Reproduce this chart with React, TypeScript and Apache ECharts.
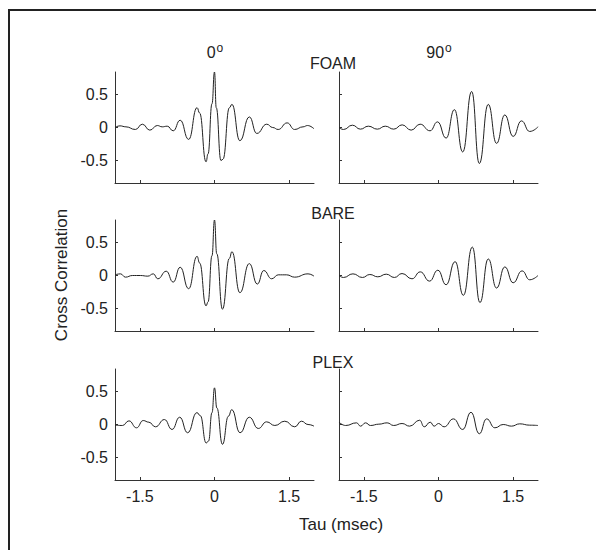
import React, { useEffect, useRef } from 'react';
import * as echarts from 'echarts';

// ---- Data ----
const xTicks = [-1.5, 0, 1.5];
const yTicks = [-0.5, 0, 0.5];
const materials = ['FOAM', 'BARE', 'PLEX'];
const angles = ['0', '90'];

const foam0Tau = [-2.0, -1.9, -1.78, -1.59, -1.45, -1.3, -1.15, -1.05, -0.95, -0.83, -0.69, -0.52, -0.35, -0.3, -0.17, -0.13, -0.05, 0, 0.035, 0.13, 0.17, 0.3, 0.35, 0.51, 0.7, 0.85, 1.05, 1.17, 1.28, 1.46, 1.61, 1.78, 1.87, 2.0];
const foam0Val = [0.0, 0.025, 0.01, -0.03, 0.05, -0.04, 0.03, 0.01, 0.02, -0.05, 0.11, -0.18, 0.30, 0.22, -0.52, -0.40, 0.36, 0.84, 0.30, -0.50, -0.48, 0.30, 0.35, -0.20, 0.16, -0.09, 0.05, 0.0, -0.03, 0.07, -0.03, 0.01, 0.03, -0.02];

const foam90Tau = [-2.0, -1.91, -1.73, -1.57, -1.41, -1.23, -1.07, -0.9, -0.73, -0.55, -0.37, -0.17, -0.02, 0.153, 0.32, 0.487, 0.667, 0.82, 1.0, 1.167, 1.333, 1.5, 1.667, 1.833, 2.0];
const foam90Val = [0.0, -0.03, 0.035, -0.025, 0.02, -0.025, 0.02, -0.025, 0.04, -0.04, 0.05, -0.05, 0.085, -0.16, 0.27, -0.37, 0.545, -0.545, 0.35, -0.24, 0.19, -0.135, 0.10, -0.06, 0.01];

const bare0Tau = [-2.0, -1.89, -1.79, -1.65, -1.49, -1.34, -1.23, -1.14, -0.97, -0.83, -0.69, -0.52, -0.35, -0.3, -0.17, -0.13, -0.05, 0, 0.045, 0.16, 0.3, 0.35, 0.51, 0.7, 0.86, 0.99, 1.15, 1.28, 1.45, 1.61, 1.88, 2.0];
const bare0Val = [0.01, 0.025, -0.025, 0.0, 0.0, -0.01, 0.025, -0.05, 0.065, -0.10, 0.125, -0.20, 0.29, 0.19, -0.46, -0.40, 0.30, 0.84, 0.33, -0.51, 0.26, 0.36, -0.26, 0.18, -0.13, 0.075, -0.05, 0.01, 0.01, -0.025, 0.025, -0.01];

const bare90Tau = [-2.0, -1.91, -1.72, -1.53, -1.38, -1.22, -1.05, -0.887, -0.733, -0.533, -0.367, -0.18, -0.013, 0.153, 0.333, 0.5, 0.68, 0.833, 1.0, 1.167, 1.333, 1.5, 1.68, 1.833, 2.0];
const bare90Val = [0.0, -0.03, 0.025, -0.03, 0.015, -0.02, 0.02, -0.03, 0.03, -0.05, 0.055, -0.085, 0.08, -0.14, 0.21, -0.30, 0.43, -0.41, 0.25, -0.19, 0.13, -0.11, 0.07, -0.065, 0.0];

const plex0Tau = [-2.0, -1.85, -1.72, -1.567, -1.433, -1.32, -1.187, -1.007, -0.853, -0.7, -0.54, -0.353, -0.287, -0.167, -0.12, -0.05, 0, 0.047, 0.16, 0.28, 0.347, 0.513, 0.7, 0.88, 1.047, 1.213, 1.413, 1.613, 1.747, 1.88, 2.0];
const plex0Val = [-0.01, -0.015, 0.055, -0.05, 0.06, 0.035, -0.035, 0.075, -0.075, 0.11, -0.125, 0.18, 0.135, -0.28, -0.25, 0.18, 0.555, 0.25, -0.30, 0.125, 0.225, -0.125, 0.11, -0.06, 0.04, -0.015, 0.05, -0.035, 0.05, 0.0, -0.025];

const plex90Tau = [-2.0, -1.867, -1.647, -1.567, -1.467, -1.367, -1.2, -1.033, -0.9, -0.733, -0.58, -0.38, -0.287, -0.167, -0.087, 0, 0.113, 0.3, 0.487, 0.653, 0.82, 0.967, 1.133, 1.3, 1.467, 1.633, 1.833, 2.0];
const plex90Val = [0.035, -0.015, 0.025, -0.025, 0.025, -0.015, 0.005, 0.025, -0.015, 0.015, -0.025, 0.065, -0.035, 0.035, -0.025, 0.015, -0.035, 0.085, -0.075, 0.185, -0.14, 0.085, -0.05, 0.0, -0.025, 0.01, -0.01, -0.015];

const panelTau = [foam0Tau, foam90Tau, bare0Tau, bare90Tau, plex0Tau, plex90Tau];
const panelVal = [foam0Val, foam90Val, bare0Val, bare90Val, plex0Val, plex90Val];

const FONT = '"Liberation Sans", Arial, Helvetica, sans-serif';
const INK = '#222';

export default function App() {
  const ref = useRef<HTMLDivElement>(null);

  useEffect(() => {
    document.body.style.margin = '0';
    const chart = echarts.init(ref.current as HTMLDivElement, null, { renderer: 'svg' });

    const colLeft = [115, 339];
    const rowTop = [72, 220, 369];
    const W = 199;
    const H = 111;

    const grid: any[] = [];
    const xAxis: any[] = [];
    const yAxis: any[] = [];
    const series: any[] = [];

    for (let r = 0; r < 3; r++) {
      for (let c = 0; c < 2; c++) {
        const i = r * 2 + c;
        grid.push({ left: colLeft[c], top: rowTop[r], width: W, height: H, containLabel: false });
        xAxis.push({
          gridIndex: i,
          type: 'value',
          min: -2,
          max: 2,
          axisLine: { show: true, onZero: false, lineStyle: { color: '#333', width: 1 } },
          axisTick: { show: true, inside: true, length: 3, customValues: xTicks, lineStyle: { color: '#333' } },
          axisLabel: {
            show: r === 2,
            customValues: xTicks,
            fontSize: 16,
            fontFamily: FONT,
            color: INK,
            margin: 8,
          },
          splitLine: { show: false },
        });
        yAxis.push({
          gridIndex: i,
          type: 'value',
          min: -0.84,
          max: 0.84,
          axisLine: { show: true, onZero: false, lineStyle: { color: '#333', width: 1 } },
          axisTick: { show: true, inside: true, length: 3, customValues: yTicks, lineStyle: { color: '#333' } },
          axisLabel: {
            show: c === 0,
            customValues: yTicks,
            fontSize: 16,
            fontFamily: FONT,
            color: INK,
            margin: 7,
          },
          splitLine: { show: false },
        });
        const tau = panelTau[i];
        const val = panelVal[i];
        series.push({
          type: 'line',
          xAxisIndex: i,
          yAxisIndex: i,
          data: tau.map((t, k) => [t, val[k]]),
          showSymbol: false,
          smooth: 0.5,
          smoothMonotone: 'x',
          lineStyle: { color: INK, width: 1 },
          silent: true,
        });
      }
    }

    const textBase = { fontFamily: FONT, fontSize: 16, fill: INK, textAlign: 'center', textVerticalAlign: 'middle' };
    const angleX = [215, 439];
    const materialY = [63, 213, 362];

    const graphic: any[] = [
      {
        type: 'rect',
        shape: { x: 9, y: 10, width: 700, height: 700 },
        style: { fill: 'none', stroke: INK, lineWidth: 2 },
        silent: true,
      },
      ...angles.map((a, k) => ({
        type: 'text',
        x: angleX[k],
        y: 52,
        style: {
          ...textBase,
          text: a + '{s|o}',
          rich: { s: { fontSize: 12, fontFamily: FONT, fill: INK, padding: [0, 0, 9, 1] } },
        },
      })),
      ...materials.map((m, k) => ({
        type: 'text',
        x: 333,
        y: materialY[k],
        style: { ...textBase, text: m },
      })),
      {
        type: 'text',
        x: 61,
        y: 275,
        rotation: Math.PI / 2,
        style: { ...textBase, fontSize: 17, text: 'Cross Correlation' },
      },
      {
        type: 'text',
        x: 341,
        y: 524,
        style: { ...textBase, fontSize: 17, text: 'Tau (msec)' },
      },
    ];

    chart.setOption({
      animation: false,
      backgroundColor: '#fff',
      textStyle: { fontFamily: FONT },
      grid,
      xAxis,
      yAxis,
      series,
      graphic,
    });

    return () => chart.dispose();
  }, []);

  return <div ref={ref} style={{ width: 596, height: 550, background: '#fff' }} />;
}
